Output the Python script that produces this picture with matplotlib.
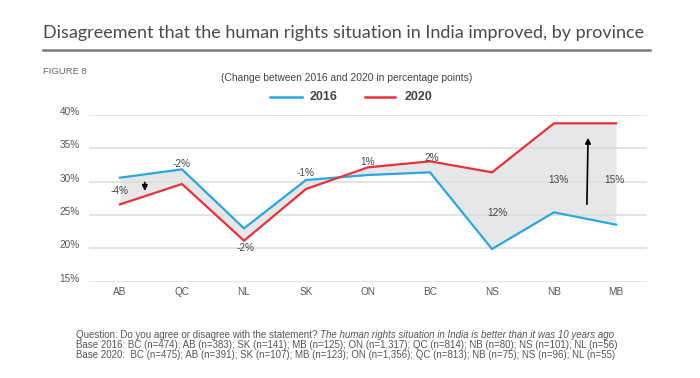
import numpy as np
import matplotlib
matplotlib.use("Agg")
import matplotlib.pyplot as plt

provinces = ["AB", "QC", "NL", "SK", "ON", "BC", "NS", "NB", "MB"]
val_2016 = [30.6, 31.85, 23.0, 30.25, 31.0, 31.4, 19.9, 25.4, 23.55]
val_2020 = [26.6, 29.65, 21.15, 28.9, 32.15, 33.05, 31.4, 38.75, 38.75]
change_labels = ["-4%", "-2%", "-2%", "-1%", "1%", "2%", "12%", "13%", "15%"]
yticks = [15, 20, 25, 30, 35, 40]

BLUE = "#29a8e0"
RED = "#e8313a"
GREY_TXT = "#555555"

plt.rcParams['font.family'] = ['Liberation Sans', 'DejaVu Sans']

fig = plt.figure(figsize=(7, 3.78), dpi=100)
ax = fig.add_axes([89/700, 1 - 281.7/378, (647 - 89)/700, (281.7 - 115)/378])

x = np.arange(len(provinces))
ax.fill_between(x, val_2016, val_2020, color="#e6e7e8", lw=0, zorder=1)
ax.plot(x, val_2016, color=BLUE, lw=1.6, zorder=3, solid_joinstyle='miter')
ax.plot(x, val_2020, color=RED, lw=1.6, zorder=3, solid_joinstyle='miter')

ax.set_xlim(-0.5, 8.5)
ax.set_ylim(15, 40)
ax.set_yticks(yticks)
ax.set_yticklabels([f"{t}%" for t in yticks], va='baseline')
ax.set_xticks(x)
ax.set_xticklabels(provinces)
ax.grid(axis='y', color="#dcdcdc", lw=1.1, zorder=0)
ax.tick_params(length=0, labelsize=7.2, colors=GREY_TXT)
ax.tick_params(axis='x', pad=4)
ax.tick_params(axis='y', pad=6.5)
for s in ax.spines.values():
    s.set_visible(False)

# change labels (positions in data coords)
label_pos = [(0.0, 28.6), (0.0, 32.6), (0.03, 20.0), (0.0, 31.3),
             (0.0, 32.9), (0.03, 33.6), (0.08, 25.3), (0.07, 30.3), (-0.03, 30.3)]
for i, (lab, (dx, yy)) in enumerate(zip(change_labels, label_pos)):
    ax.text(i + dx, yy, lab, ha='center', va='center', fontsize=7.2, color="#444444", zorder=4)

# arrows
ax.annotate("", xy=(0.4, 28.2), xytext=(0.4, 30.3),
            arrowprops=dict(arrowstyle="-|>", color="black", lw=1.2, mutation_scale=8), zorder=5)
ax.annotate("", xy=(7.55, 37.0), xytext=(7.53, 26.2),
            arrowprops=dict(arrowstyle="-|>", color="black", lw=1.2, mutation_scale=8), zorder=5)

# title and rule
fig.text(43/700, 1 - 33/378, "Disagreement that the human rights situation in India improved, by province",
         fontsize=13, color="#4a4a4a", va='center', ha='left', family=['Lato', 'DejaVu Sans'])
fig.add_artist(plt.Line2D([43/700, 650/700], [1 - 50/378, 1 - 50/378], color="#7a7a7a", lw=1.8))

fig.text(43/700, 1 - 72/378, "FIGURE 8", fontsize=6.8, color="#666666", va='center', ha='left')
fig.text(347/700, 1 - 78/378, "(Change between 2016 and 2020 in percentage points)",
         fontsize=7.4, color="#444444", va='center', ha='center')

# legend
fig.add_artist(plt.Line2D([270/700, 302/700], [1 - 97/378, 1 - 97/378], color=BLUE, lw=1.8))
fig.text(310/700, 1 - 97/378, "2016", fontsize=9, fontweight='bold', color="#444444", va='center')
fig.add_artist(plt.Line2D([365/700, 395/700], [1 - 97/378, 1 - 97/378], color=RED, lw=1.8))
fig.text(405/700, 1 - 97/378, "2020", fontsize=9, fontweight='bold', color="#444444", va='center')

# footnote
fs = 7.0
fc = "#555555"
t1 = fig.text(76/700, 1 - 335/378, "Question: Do you agree or disagree with the statement? ",
              fontsize=fs, color=fc, va='center')
ax.annotate("The human rights situation in India is better than it was 10 years ago",
            xy=(1, 0.5), xycoords=t1, va='center', ha='left',
            fontsize=fs, color=fc, style='italic', annotation_clip=False)
fig.text(76/700, 1 - 345/378,
         "Base 2016: BC (n=474); AB (n=383); SK (n=141); MB (n=125); ON (n=1,317); QC (n=814); NB (n=80); NS (n=101); NL (n=56)",
         fontsize=fs, color=fc, va='center')
fig.text(76/700, 1 - 355/378,
         "Base 2020:  BC (n=475); AB (n=391); SK (n=107); MB (n=123); ON (n=1,356); QC (n=813); NB (n=75); NS (n=96); NL (n=55)",
         fontsize=fs, color=fc, va='center')

fig.savefig("out.png", dpi=100, facecolor="white")
